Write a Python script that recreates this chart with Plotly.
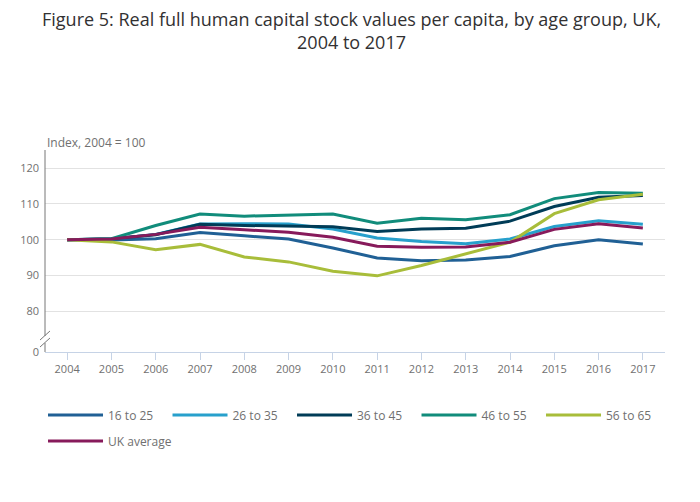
import plotly.graph_objects as go

years = list(range(2004, 2018))
series_names = ["16 to 25", "26 to 35", "36 to 45", "46 to 55", "56 to 65", "UK average"]
colors = ["#206095", "#27a0cc", "#003c57", "#118c7b", "#a8bd3a", "#871a5b"]

v_16_25 = [100.0, 99.9, 100.3, 102.0, 101.1, 100.2, 97.7, 94.9, 94.1, 94.3, 95.3, 98.3, 100.0, 98.8]
v_26_35 = [100.0, 100.2, 101.5, 104.4, 104.5, 104.4, 103.0, 100.5, 99.5, 98.9, 100.2, 103.7, 105.3, 104.3]
v_36_45 = [100.0, 100.3, 101.4, 104.3, 104.0, 103.9, 103.6, 102.3, 103.0, 103.2, 105.2, 109.3, 111.9, 112.4]
v_46_55 = [100.0, 100.3, 104.0, 107.2, 106.6, 107.0, 107.2, 104.6, 106.0, 105.6, 107.0, 111.5, 113.2, 113.0]
v_56_65 = [100.0, 99.4, 97.2, 98.7, 95.2, 93.8, 91.2, 89.9, 92.8, 96.1, 99.3, 107.3, 111.2, 112.7]
v_uk = [100.0, 100.2, 101.5, 103.5, 102.8, 102.1, 100.7, 98.2, 97.9, 98.0, 99.3, 102.9, 104.5, 103.3]
all_values = [v_16_25, v_26_35, v_36_45, v_46_55, v_56_65, v_uk]

y_tickvals = [68.6, 80, 90, 100, 110, 120]
y_ticktext = ["0", "80", "90", "100", "110", "120"]

# page has an 8px body margin; work in reference pixel coordinates
OFF = 8
W, H = 700 - OFF, 502 - OFF
# plot area in reference pixels: x 42..665, y 150..352
L, T = 42 - OFF, 150 - OFF
R = W - (665 - OFF)
B = H - (352 - OFF)
pw, ph = W - L - R, H - T - B

def px(x):
    return (x - OFF - L) / pw

def py(y):
    return (H - B - (y - OFF)) / ph

fig = go.Figure()
for i, (name, vals, c) in enumerate(zip(series_names, all_values, colors)):
    fig.add_trace(go.Scatter(x=years, y=vals, name=name, mode="lines",
                             line=dict(color=c, width=3),
                             legend="legend2" if name == "UK average" else "legend"))

axis_grey = "#777777"
shapes = [
    dict(type="line", xref="paper", yref="paper", x0=0, x1=0, y0=py(150), y1=py(336),
         line=dict(color=axis_grey, width=1)),
    dict(type="line", xref="paper", yref="paper", x0=0, x1=0, y0=py(343), y1=py(352),
         line=dict(color=axis_grey, width=1)),
    dict(type="line", xref="paper", yref="paper", x0=px(37), x1=px(47), y0=py(340), y1=py(331),
         line=dict(color=axis_grey, width=1)),
    dict(type="line", xref="paper", yref="paper", x0=px(37), x1=px(47), y0=py(347), y1=py(338),
         line=dict(color=axis_grey, width=1)),
]

legend_common = dict(orientation="h", xanchor="left", yanchor="middle",
                     font=dict(size=12, color="#707070"),
                     entrywidthmode="pixels", itemwidth=55,
                     traceorder="normal", bgcolor="rgba(0,0,0,0)")

fig.update_layout(
    width=W, height=H,
    margin=dict(l=L, r=R, t=T, b=B),
    paper_bgcolor="white", plot_bgcolor="white",
    font=dict(family="Open Sans", color="#707070", size=11),
    xaxis=dict(range=[2003.5, 2017.5], tickmode="array", tickvals=years,
               ticktext=[str(y) for y in years],
               showgrid=False, showline=True, linecolor="#c6d3e6", linewidth=1,
               ticks="outside", ticklen=7, tickcolor="#c6d3e6", zeroline=False,
               tickfont=dict(size=11, color="#707070")),
    yaxis=dict(range=[68.6, 125.1], tickmode="array", tickvals=y_tickvals, ticktext=y_ticktext,
               showgrid=True, gridcolor="#e2e2e2", gridwidth=1, showline=False,
               zeroline=False, ticks="", ticklabelstandoff=5,
               tickfont=dict(size=11, color="#707070")),
    showlegend=True,
    legend=dict(x=px(40), y=py(415), entrywidth=54.5, **legend_common),
    legend2=dict(x=px(40), y=py(441), entrywidth=90, **legend_common),
    annotations=[
        dict(text="Figure 5: Real full human capital stock values per capita, by age group, UK,<br>2004 to 2017",
             xref="paper", yref="paper", x=px(350), y=py(31), xanchor="center", yanchor="middle",
             showarrow=False, align="center",
             font=dict(family="Open Sans", size=18, color="#323132")),
        dict(text="Index, 2004 = 100", xref="paper", yref="paper", x=px(42), y=py(142),
             xanchor="left", yanchor="middle", showarrow=False,
             font=dict(size=12, color="#707070")),
    ],
    shapes=shapes,
)

fig.write_html("out.html")
